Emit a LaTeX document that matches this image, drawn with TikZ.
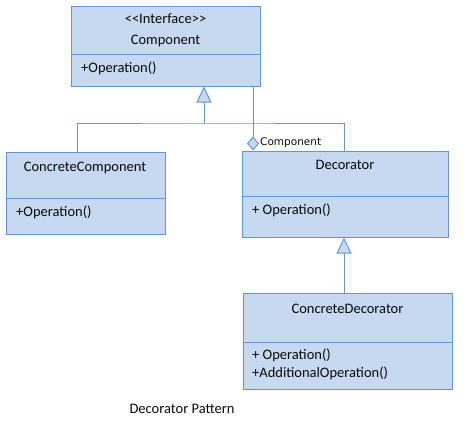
\documentclass[tikz,border=0pt]{standalone}
\usepackage{fontspec}
\setmainfont{Carlito}
\newfontfamily\rolefont{DejaVu Sans}
\usetikzlibrary{arrows.meta}
\definecolor{clsfill}{RGB}{198,217,240}
\definecolor{clsline}{RGB}{98,148,214}
\definecolor{clstext}{RGB}{10,10,10}

\begin{document}
\begin{tikzpicture}[x=1pt, y=-1pt,
      every node/.style = {text=clstext, inner sep=0pt,
        font=\fontsize{14.5}{17}\selectfont},
      classbox/.style = {rectangle, draw=clsline, fill=clsfill, line width=1pt},
      link/.style = {draw=clsline, line width=1pt},
      inherit/.style = {link, -{Triangle[width=15pt, length=16pt, fill=clsfill]}},
      member/.style = {anchor=west}]
  \useasboundingbox (0,0) rectangle (470,421);

  \node[classbox, minimum width=189pt, minimum height=80pt] (comp) at (165.5,46) {};
  \draw[link] (comp.west |- 0,54) -- (comp.east |- 0,54);
  \node (compStereo) at (165.5,19) {<\kern0pt<Interface>\kern0pt>};
  \node (compName) at (165.5,41) {Component};
  \node[member] (compOp) at (81,68) {+Operation()};

  \node[classbox, minimum width=159pt, minimum height=82pt] (cc) at (85.5,193) {};
  \draw[link] (cc.west |- 0,198) -- (cc.east |- 0,198);
  \node (ccName) at (85,168) {ConcreteComponent};
  \node[member] (ccOp) at (16,212) {+Operation()};

  \node[classbox, minimum width=206pt, minimum height=86pt] (dec) at (345,194) {};
  \draw[link] (dec.west |- 0,196) -- (dec.east |- 0,196);
  \node (decName) at (345,165) {Decorator};
  \node[member] (decOp) at (252,210) {+ Operation()};

  \node[classbox, minimum width=209pt, minimum height=96pt] (cd) at (347.5,341) {};
  \draw[link] (cd.west |- 0,342) -- (cd.east |- 0,342);
  \node (cdName) at (347.5,309) {ConcreteDecorator};
  \node[member] (cdOp) at (252,355) {+ Operation()};
  \node[member] (cdAddOp) at (252,373) {+AdditionalOperation()};

  \coordinate (hub) at (204,123);
  \draw[link] (cc.north -| 77,0) |- (hub) -| (dec.north -| 344,0);
  \draw[inherit] (hub) -- (hub |- comp.south);
  \draw[inherit] (cd.north -| 344,0) -- (dec.south -| 344,0);
  \draw[link, {Diamond[width=12pt, length=14pt, fill=clsfill]}-]
    (dec.north -| 253,0) -- (comp.south -| 253,0);
  \node[anchor=west, font=\rolefont\fontsize{10.5}{12}\selectfont] (role) at (260,143) {Component};

  \node (caption) at (182,409) {Decorator Pattern};
\end{tikzpicture}
\end{document}
